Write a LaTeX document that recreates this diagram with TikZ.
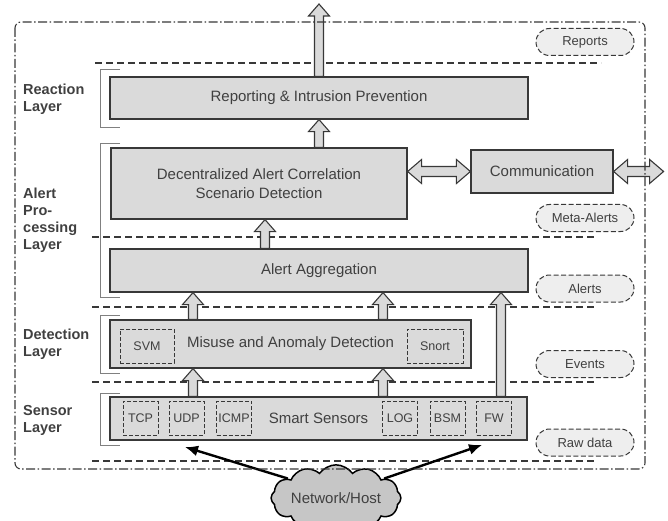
\documentclass[tikz,border=0pt]{standalone}
\usepackage{fontspec}
\setmainfont{Liberation Sans}
\usetikzlibrary{calc,positioning,arrows.meta,shapes.misc,shapes.symbols}
\definecolor{boxfill}{HTML}{DADADA}
\definecolor{linegray}{HTML}{383838}
\definecolor{textgray}{HTML}{404040}
\definecolor{cloudfill}{HTML}{C6C6C6}
\tikzset{
  layerbox/.style={draw=linegray,fill=boxfill,line width=1.2pt,text=textgray,
    font=\fontsize{15}{19}\selectfont,align=center,inner sep=0pt},
  toolbox/.style={draw=linegray,dash pattern=on 4pt off 2pt,line width=1pt,
    minimum width=35pt,minimum height=34pt,inner sep=0pt,text=textgray,
    font=\fontsize{12.5}{14}\selectfont},
  datatag/.style={rounded rectangle,draw=linegray,dash pattern=on 5pt off 2.5pt,
    line width=1pt,fill=boxfill!45,minimum width=98pt,minimum height=27pt,
    inner sep=0pt,text=textgray,font=\fontsize{13}{15}\selectfont},
  layerlabel/.style={anchor=west,align=left,inner sep=0pt,text=textgray,
    font=\bfseries\fontsize{14.5}{17}\selectfont},
  separator/.style={draw=linegray,line width=1.2pt,dash pattern=on 7pt off 4pt},
  bracket/.style={draw=gray,line width=1pt},
  blockarr/.style={draw=linegray,fill=boxfill,line width=1.1pt},
  netarrow/.style={draw=black,line width=2.4pt,-{Latex[length=13pt,width=11pt]}},
  frame/.style={draw=linegray,line width=1.1pt,rounded corners=6pt,
    dash pattern=on 9pt off 2.5pt on 1.5pt off 2.5pt}
}
% vertical block arrow, tail #1, tip #2
\newcommand\blockup[2]{%
  \path[blockarr] let \p1=(#1),\p2=(#2) in
    (\x1-4.5pt,\y1) -- (\x1-4.5pt,\y2-12pt) -- (\x1-10.5pt,\y2-12pt) -- (\x1,\y2)
    -- (\x1+10.5pt,\y2-12pt) -- (\x1+4.5pt,\y2-12pt) -- (\x1+4.5pt,\y1) -- cycle;}
% horizontal double block arrow from #1 to #2
\newcommand\blockboth[2]{%
  \path[blockarr] let \p1=(#1),\p2=(#2) in
    (\x1,\y1) -- (\x1+14pt,\y1+12pt) -- (\x1+14pt,\y1+5pt) -- (\x2-14pt,\y1+5pt)
    -- (\x2-14pt,\y1+12pt) -- (\x2,\y1) -- (\x2-14pt,\y1-12pt) -- (\x2-14pt,\y1-5pt)
    -- (\x1+14pt,\y1-5pt) -- (\x1+14pt,\y1-12pt) -- cycle;}
\begin{document}
\begin{tikzpicture}[x=1pt,y=-1pt]
  \useasboundingbox (0,0) rectangle (668,521);

  % layer separators
  \foreach \y/\xa/\xb in {63/95/601,237/92/597,307/92/597,382/92/596,461/92/597}
    \draw[separator] (\xa,\y) -- (\xb,\y);

  % layer brackets
  \foreach \ya/\yb in {70/128,144/297,315/373,393/445}
    \draw[bracket] (120,\ya) -| (100,\yb) -- (120,\yb);

  \node[layerlabel] (lreact) at (23,99) {Reaction\\Layer};
  \node[layerlabel] (lalert) at (23,220) {Alert\\Pro-\\cessing\\Layer};
  \node[layerlabel] (ldetect) at (23,344) {Detection\\Layer};
  \node[layerlabel] (lsensor) at (23,420) {Sensor\\Layer};

  % components
  \node[layerbox,minimum width=418pt,minimum height=42pt] (rep) at (319,98)
    {Reporting \& Intrusion Prevention};
  \node[layerbox,minimum width=296pt,minimum height=71pt] (dec) at (259,183.5)
    {Decentralized Alert Correlation\\Scenario Detection};
  \node[layerbox,minimum width=142pt,minimum height=43pt] (com) at (542,171.5)
    {Communication};
  \node[layerbox,minimum width=418pt,minimum height=43pt] (agg) at (319,270.5)
    {Alert Aggregation};
  \node[layerbox,minimum width=361pt,minimum height=48pt] (mis) at (290.5,344)
    {Misuse and Anomaly Detection};
  \node[layerbox,minimum width=417pt,minimum height=43pt] (sen) at (318.5,418.5)
    {Smart Sensors};

  \node[toolbox,minimum width=54pt] (svm) at (147,346) {SVM};
  \node[toolbox,minimum width=56pt] (snort) at (435,346) {Snort};
  \node[toolbox] (tcp) at (140.5,418) {TCP};
  \node[toolbox] (udp) at (186.5,418) {UDP};
  \node[toolbox] (icmp) at (234,418) {ICMP};
  \node[toolbox] (log) at (400,418) {LOG};
  \node[toolbox] (bsm) at (447.5,418) {BSM};
  \node[toolbox] (fw) at (494,418) {FW};

  % data tags
  \node[datatag] (treports) at (585,42) {Reports};
  \node[datatag] (tmeta) at (585,218) {Meta-Alerts};
  \node[datatag] (talerts) at (585,288.5) {Alerts};
  \node[datatag] (tevents) at (585,364) {Events};
  \node[datatag] (traw) at (585,442.5) {Raw data};

  % block arrows
  \coordinate (c1) at (193,0);
  \coordinate (c2) at (383,0);
  \coordinate (c3) at (265,0);
  \coordinate (c4) at (319,0);
  \coordinate (c5) at (501,0);
  \coordinate (out) at (319,4);
  \coordinate (ext) at ([xshift=50pt]com.east);
  \blockup{c1 |- sen.north}{c1 |- mis.south}
  \blockup{c2 |- sen.north}{c2 |- mis.south}
  \blockup{c1 |- mis.north}{c1 |- agg.south}
  \blockup{c2 |- mis.north}{c2 |- agg.south}
  \blockup{c5 |- sen.north}{c5 |- agg.south}
  \blockup{c3 |- agg.north}{c3 |- dec.south}
  \blockup{c4 |- dec.north}{c4 |- rep.south}
  \blockup{c4 |- rep.north}{out}
  \blockboth{dec.east |- com.west}{com.west}
  \blockboth{com.east}{ext}

  % network input
  \node[cloud,cloud puffs=12,cloud puff arc=110,aspect=2.5,draw=black,line width=1.5pt,
    fill=cloudfill,minimum width=112pt,minimum height=42pt,inner sep=0pt,text=textgray,
    font=\fontsize{15}{17}\selectfont] (net) at (336,498) {Network/Host};
  \coordinate (tipl) at (185,447);
  \coordinate (tipr) at (482,445);
  \draw[netarrow] (net.158) -- (tipl);
  \draw[netarrow] (net.22) -- (tipr);

  \draw[frame] (15,22) rectangle (645,469);
\end{tikzpicture}
\end{document}
